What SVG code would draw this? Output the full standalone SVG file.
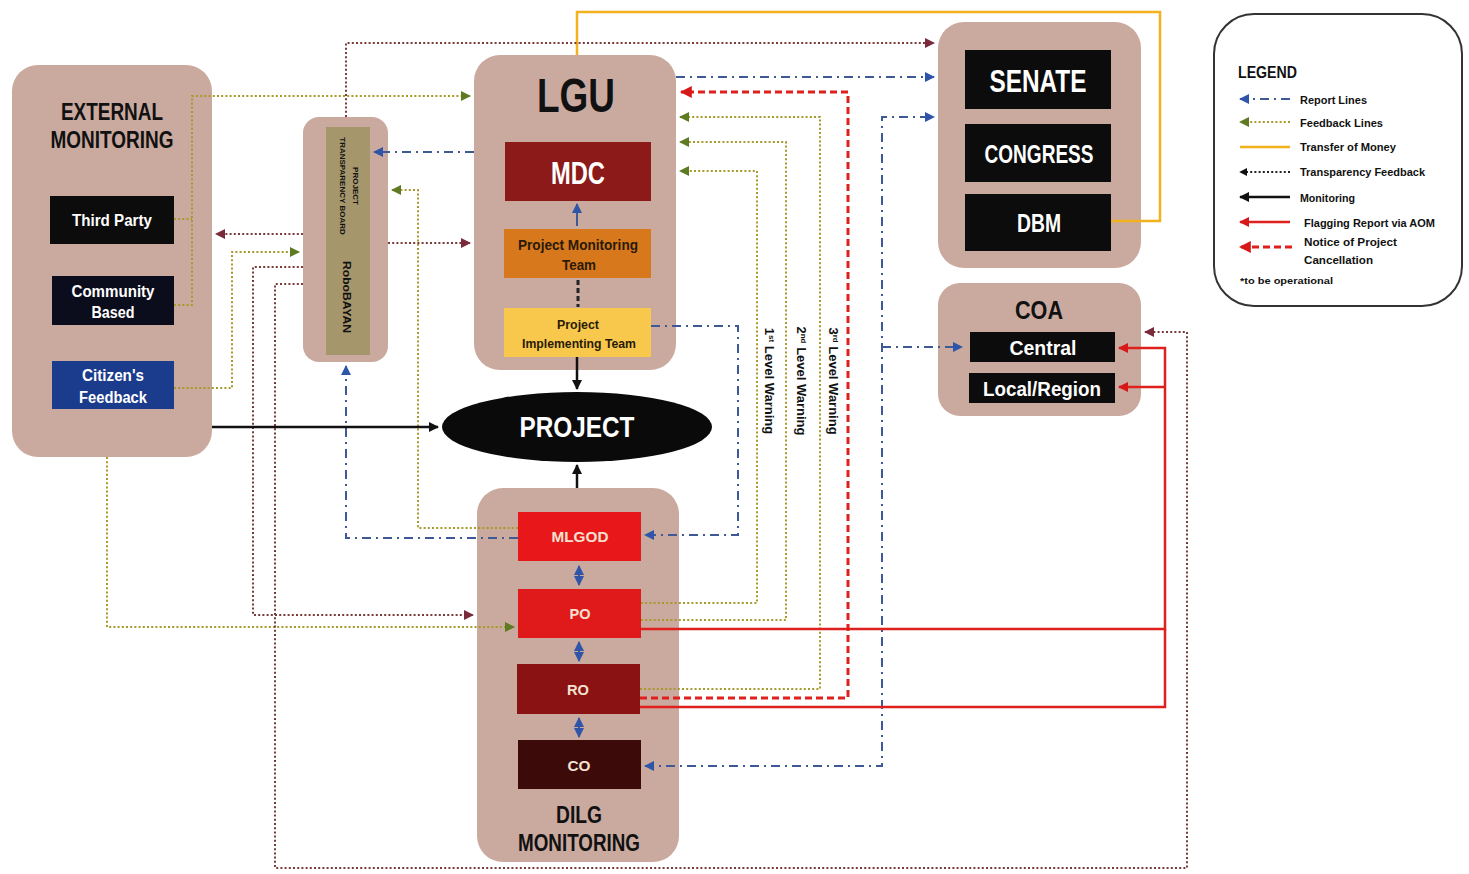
<svg xmlns="http://www.w3.org/2000/svg" width="1469" height="874" viewBox="0 0 1469 874">
<defs>
<style>
text{font-family:"Liberation Sans Narrow","Liberation Sans",Arial,sans-serif;font-weight:bold}
.panel{fill:#caa99f}
.w{fill:#ffffff}
.fb{fill:none;stroke:#a89a2a;stroke-width:2;stroke-dasharray:2 2.2}
.tf{fill:none;stroke:#7a3b3b;stroke-width:2;stroke-dasharray:2 2.2}
.rp{fill:none;stroke:#3d5a96;stroke-width:2;stroke-dasharray:9 5 2 5}
.mon{fill:none;stroke:#111;stroke-width:2.5}
.money{fill:none;stroke:#f2b21e;stroke-width:2.5}
.flag{fill:none;stroke:#e0201c;stroke-width:2.5}
.cancel{fill:none;stroke:#e0201c;stroke-width:3;stroke-dasharray:7 4}
</style>
<marker id="aFb" viewBox="0 0 10 10" refX="9" refY="5" markerWidth="5" markerHeight="5" orient="auto-start-reverse" markerUnits="strokeWidth"><path d="M0,0 L10,5 L0,10 z" fill="#5e7a22"/></marker>
<marker id="aTf" viewBox="0 0 10 10" refX="9" refY="5" markerWidth="5" markerHeight="5" orient="auto-start-reverse" markerUnits="strokeWidth"><path d="M0,0 L10,5 L0,10 z" fill="#7a2b3b"/></marker>
<marker id="aRp" viewBox="0 0 10 10" refX="9" refY="5" markerWidth="5" markerHeight="5" orient="auto-start-reverse" markerUnits="strokeWidth"><path d="M0,0 L10,5 L0,10 z" fill="#2f55a8"/></marker>
<marker id="aMon" viewBox="0 0 10 10" refX="9" refY="5" markerWidth="4" markerHeight="4" orient="auto-start-reverse" markerUnits="strokeWidth"><path d="M0,0 L10,5 L0,10 z" fill="#111"/></marker>
<marker id="aRed" viewBox="0 0 10 10" refX="9" refY="5" markerWidth="4" markerHeight="4" orient="auto-start-reverse" markerUnits="strokeWidth"><path d="M0,0 L10,5 L0,10 z" fill="#d81818"/></marker>
</defs>
<rect width="1469" height="874" fill="#ffffff"/>

<g id="external-monitoring">
<rect class="panel" x="12" y="65" width="200" height="392" rx="26"/>
<text x="112" y="120" text-anchor="middle" font-size="23" textLength="102" lengthAdjust="spacingAndGlyphs" fill="#111">EXTERNAL</text>
<text x="112" y="148" text-anchor="middle" font-size="23" textLength="123" lengthAdjust="spacingAndGlyphs" fill="#111">MONITORING</text>
</g>
<g id="third-party">
<rect x="50" y="196" width="124" height="48" fill="#0c0c0c"/>
<text x="112" y="226" text-anchor="middle" font-size="16" textLength="80" lengthAdjust="spacingAndGlyphs" class="w">Third Party</text>
</g>
<g id="community-based">
<rect x="52" y="276" width="122" height="49" fill="#0b0c1c"/>
<text x="113" y="297" text-anchor="middle" font-size="16" textLength="83" lengthAdjust="spacingAndGlyphs" class="w">Community</text>
<text x="113" y="318" text-anchor="middle" font-size="16" textLength="43" lengthAdjust="spacingAndGlyphs" class="w">Based</text>
</g>
<g id="citizens-feedback">
<rect x="52" y="361" width="122" height="48" fill="#1b3b8c"/>
<text x="113" y="381" text-anchor="middle" font-size="16" textLength="62" lengthAdjust="spacingAndGlyphs" class="w">Citizen's</text>
<text x="113" y="403" text-anchor="middle" font-size="16" textLength="68" lengthAdjust="spacingAndGlyphs" class="w">Feedback</text>
</g>

<g id="transparency-board">
<rect class="panel" x="303" y="117" width="85" height="245" rx="16"/>
<rect x="326" y="127" width="44" height="228" fill="#a6966c"/>
<text transform="translate(353,186) rotate(90)" text-anchor="middle" font-size="8" fill="#111">PROJECT</text>
<text transform="translate(340,186) rotate(90)" text-anchor="middle" font-size="8" fill="#111">TRANSPARENCY BOARD</text>
<text transform="translate(343,297) rotate(90)" text-anchor="middle" font-size="11" textLength="72" lengthAdjust="spacingAndGlyphs" fill="#111">RoboBAYAN</text>
</g>

<g id="lgu">
<rect class="panel" x="474" y="55" width="202" height="315" rx="26"/>
<text x="576" y="112" text-anchor="middle" font-size="48" textLength="78" lengthAdjust="spacingAndGlyphs" fill="#111">LGU</text>
</g>
<g id="mdc">
<rect x="505" y="142" width="146" height="59" fill="#8c1a18"/>
<text x="578" y="184" text-anchor="middle" font-size="31" textLength="54" lengthAdjust="spacingAndGlyphs" class="w">MDC</text>
</g>
<g id="project-monitoring-team">
<rect x="504" y="229" width="147" height="49" fill="#d8781c"/>
<text x="578" y="250" text-anchor="middle" font-size="14" textLength="120" lengthAdjust="spacingAndGlyphs" fill="#2a1a08">Project Monitoring</text>
<text x="579" y="270" text-anchor="middle" font-size="14" textLength="34" lengthAdjust="spacingAndGlyphs" fill="#2a1a08">Team</text>
</g>
<g id="project-implementing-team">
<rect x="504" y="308" width="147" height="49" fill="#f8c84c"/>
<text x="578" y="329" text-anchor="middle" font-size="13" textLength="42" lengthAdjust="spacingAndGlyphs" fill="#2a1a08">Project</text>
<text x="579" y="348" text-anchor="middle" font-size="13" textLength="114" lengthAdjust="spacingAndGlyphs" fill="#2a1a08">Implementing Team</text>
</g>

<g id="project">
<ellipse cx="577" cy="427" rx="135" ry="35" fill="#0a0a0a"/>
<text x="577" y="437" text-anchor="middle" font-size="30" textLength="115" lengthAdjust="spacingAndGlyphs" class="w">PROJECT</text>
</g>

<g id="dilg-monitoring">
<rect class="panel" x="477" y="488" width="202" height="374" rx="26"/>
<text x="579" y="823" text-anchor="middle" font-size="24" textLength="46" lengthAdjust="spacingAndGlyphs" fill="#111">DILG</text>
<text x="579" y="851" text-anchor="middle" font-size="24" textLength="122" lengthAdjust="spacingAndGlyphs" fill="#111">MONITORING</text>
</g>
<g id="mlgod">
<rect x="518" y="512" width="123" height="49" fill="#e8181a"/>
<text x="580" y="542" text-anchor="middle" font-size="15" textLength="57" lengthAdjust="spacingAndGlyphs" fill="#f4e0d0">MLGOD</text>
</g>
<g id="po">
<rect x="518" y="589" width="123" height="49" fill="#e01a1a"/>
<text x="580" y="619" text-anchor="middle" font-size="15" textLength="21" lengthAdjust="spacingAndGlyphs" fill="#f4e0d0">PO</text>
</g>
<g id="ro">
<rect x="517" y="664" width="123" height="50" fill="#8a1212"/>
<text x="578" y="695" text-anchor="middle" font-size="15" textLength="22" lengthAdjust="spacingAndGlyphs" fill="#f4e0d0">RO</text>
</g>
<g id="co">
<rect x="518" y="740" width="123" height="49" fill="#3c0a08"/>
<text x="579" y="771" text-anchor="middle" font-size="15" textLength="23" lengthAdjust="spacingAndGlyphs" fill="#f4e0d0">CO</text>
</g>

<g id="legislature">
<rect class="panel" x="938" y="22" width="203" height="246" rx="26"/>
</g>
<g id="senate">
<rect x="965" y="50" width="146" height="59" fill="#0c0c0c"/>
<text x="1038" y="92" text-anchor="middle" font-size="32" textLength="97" lengthAdjust="spacingAndGlyphs" class="w">SENATE</text>
</g>
<g id="congress">
<rect x="965" y="124" width="146" height="58" fill="#0c0c0c"/>
<text x="1039" y="163" text-anchor="middle" font-size="26" textLength="109" lengthAdjust="spacingAndGlyphs" class="w">CONGRESS</text>
</g>
<g id="dbm">
<rect x="965" y="194" width="146" height="57" fill="#0c0c0c"/>
<text x="1039" y="232" text-anchor="middle" font-size="25" textLength="44" lengthAdjust="spacingAndGlyphs" class="w">DBM</text>
</g>

<g id="coa">
<rect class="panel" x="938" y="283" width="203" height="133" rx="22"/>
<text x="1039" y="319" text-anchor="middle" font-size="26" textLength="48" lengthAdjust="spacingAndGlyphs" fill="#111">COA</text>
</g>
<g id="coa-central">
<rect x="970" y="332" width="145" height="30" fill="#0c0c0c"/>
<text x="1043" y="355" text-anchor="middle" font-size="21" textLength="67" lengthAdjust="spacingAndGlyphs" class="w">Central</text>
</g>
<g id="coa-local-region">
<rect x="969" y="373" width="146" height="30" fill="#0c0c0c"/>
<text x="1042" y="396" text-anchor="middle" font-size="21" textLength="118" lengthAdjust="spacingAndGlyphs" class="w">Local/Region</text>
</g>

<g id="legend">
<rect x="1214" y="14" width="248" height="292" rx="40" fill="#ffffff" stroke="#333" stroke-width="2"/>
<text x="1238" y="78" font-size="16" textLength="59" lengthAdjust="spacingAndGlyphs" fill="#111">LEGEND</text>
<path class="rp" d="M1290,99 H1240" marker-end="url(#aRp)"/>
<text x="1300" y="104" font-size="11" textLength="67" lengthAdjust="spacingAndGlyphs" fill="#111">Report Lines</text>
<path class="fb" d="M1290,122 H1240" marker-end="url(#aFb)"/>
<text x="1300" y="127" font-size="11" textLength="83" lengthAdjust="spacingAndGlyphs" fill="#111">Feedback Lines</text>
<path class="money" d="M1290,147 H1240"/>
<text x="1300" y="151" font-size="11" textLength="96" lengthAdjust="spacingAndGlyphs" fill="#111">Transfer of Money</text>
<path class="tf" d="M1290,172 H1240" style="stroke:#222" marker-end="url(#aMon)"/>
<text x="1300" y="176" font-size="11" textLength="125" lengthAdjust="spacingAndGlyphs" fill="#111">Transparency Feedback</text>
<path class="mon" d="M1290,197 H1240" marker-end="url(#aMon)"/>
<text x="1300" y="202" font-size="11" textLength="55" lengthAdjust="spacingAndGlyphs" fill="#111">Monitoring</text>
<path class="flag" d="M1290,222 H1240" marker-end="url(#aRed)"/>
<text x="1304" y="227" font-size="11" textLength="131" lengthAdjust="spacingAndGlyphs" fill="#111">Flagging Report via AOM</text>
<path class="cancel" d="M1292,247 H1240" marker-end="url(#aRed)"/>
<text x="1304" y="246" font-size="11" textLength="93" lengthAdjust="spacingAndGlyphs" fill="#111">Notice of Project</text>
<text x="1304" y="264" font-size="11" textLength="69" lengthAdjust="spacingAndGlyphs" fill="#111">Cancellation</text>
<text x="1240" y="284" font-size="9.5" textLength="93" lengthAdjust="spacingAndGlyphs" fill="#111">*to be operational</text>
</g>

<g id="connectors">
<path class="money" d="M1111,221 H1160 V12 H577 V55"/>
<path class="fb" d="M174,219 H192"/>
<path class="fb" d="M174,305 H192 V96 H470" marker-end="url(#aFb)"/>
<path class="fb" d="M174,388 H232 V252 H299" marker-end="url(#aFb)"/>
<path class="fb" d="M107,457 V627 H514" marker-end="url(#aFb)"/>
<path class="fb" d="M518,528 H418 V190 H392" marker-end="url(#aFb)"/>
<path class="fb" d="M641,603 H757 V171 H680" marker-end="url(#aFb)"/>
<path class="fb" d="M641,620 H786 V142 H680" marker-end="url(#aFb)"/>
<path class="fb" d="M640,689 H820 V117 H680" marker-end="url(#aFb)"/>
<path class="tf" d="M303,234 H216" marker-end="url(#aTf)"/>
<path class="tf" d="M303,267 H253 V615 H473" marker-end="url(#aTf)"/>
<path class="tf" d="M303,284 H275 V868 H1187 V332 H1145" marker-end="url(#aTf)"/>
<path class="tf" d="M346,117 V43 H934" marker-end="url(#aTf)"/>
<path class="tf" d="M388,243 H470" marker-end="url(#aTf)"/>
<path class="rp" d="M474,152 H374" marker-end="url(#aRp)"/>
<path class="rp" d="M676,77 H934" marker-end="url(#aRp)"/>
<path class="rp" d="M651,326 H738 V535 H645" marker-end="url(#aRp)"/>
<path class="rp" d="M518,538 H346 V366" marker-end="url(#aRp)"/>
<path class="rp" d="M645,766 H882 V117 H934" marker-start="url(#aRp)" marker-end="url(#aRp)"/>
<path class="rp" d="M882,347 H962" marker-end="url(#aRp)"/>
<path class="rp" d="M577,226 V204" style="stroke-dasharray:none" marker-end="url(#aRp)"/>
<path class="rp" d="M579,566 V585" style="stroke-dasharray:4 2" marker-start="url(#aRp)" marker-end="url(#aRp)"/>
<path class="rp" d="M579,642 V661" style="stroke-dasharray:4 2" marker-start="url(#aRp)" marker-end="url(#aRp)"/>
<path class="rp" d="M579,718 V737" style="stroke-dasharray:4 2" marker-start="url(#aRp)" marker-end="url(#aRp)"/>
<path class="cancel" d="M640,698 H848 V92 H681" marker-end="url(#aRed)"/>
<path class="flag" d="M641,629 H1165 V348 H1119" marker-end="url(#aRed)"/>
<path class="flag" d="M640,707 H1165 V629"/>
<path class="flag" d="M1165,387 H1119" marker-end="url(#aRed)"/>
<path class="mon" d="M212,427 H438" marker-end="url(#aMon)"/>
<path class="mon" d="M577,357 V389" marker-end="url(#aMon)"/>
<path class="mon" d="M577,488 V465" marker-end="url(#aMon)"/>
<path d="M578,280 V307" fill="none" stroke="#222" stroke-width="3" stroke-dasharray="5 3"/>
<text transform="translate(765,381) rotate(90)" text-anchor="middle" font-size="13" fill="#111">1<tspan font-size="8" dy="-4">st</tspan><tspan dy="4"> Level Warning</tspan></text>
<text transform="translate(797,381) rotate(90)" text-anchor="middle" font-size="13" fill="#111">2<tspan font-size="8" dy="-4">nd</tspan><tspan dy="4"> Level Warning</tspan></text>
<text transform="translate(829,381) rotate(90)" text-anchor="middle" font-size="13" fill="#111">3<tspan font-size="8" dy="-4">rd</tspan><tspan dy="4"> Level Warning</tspan></text>
</g>
</svg>
